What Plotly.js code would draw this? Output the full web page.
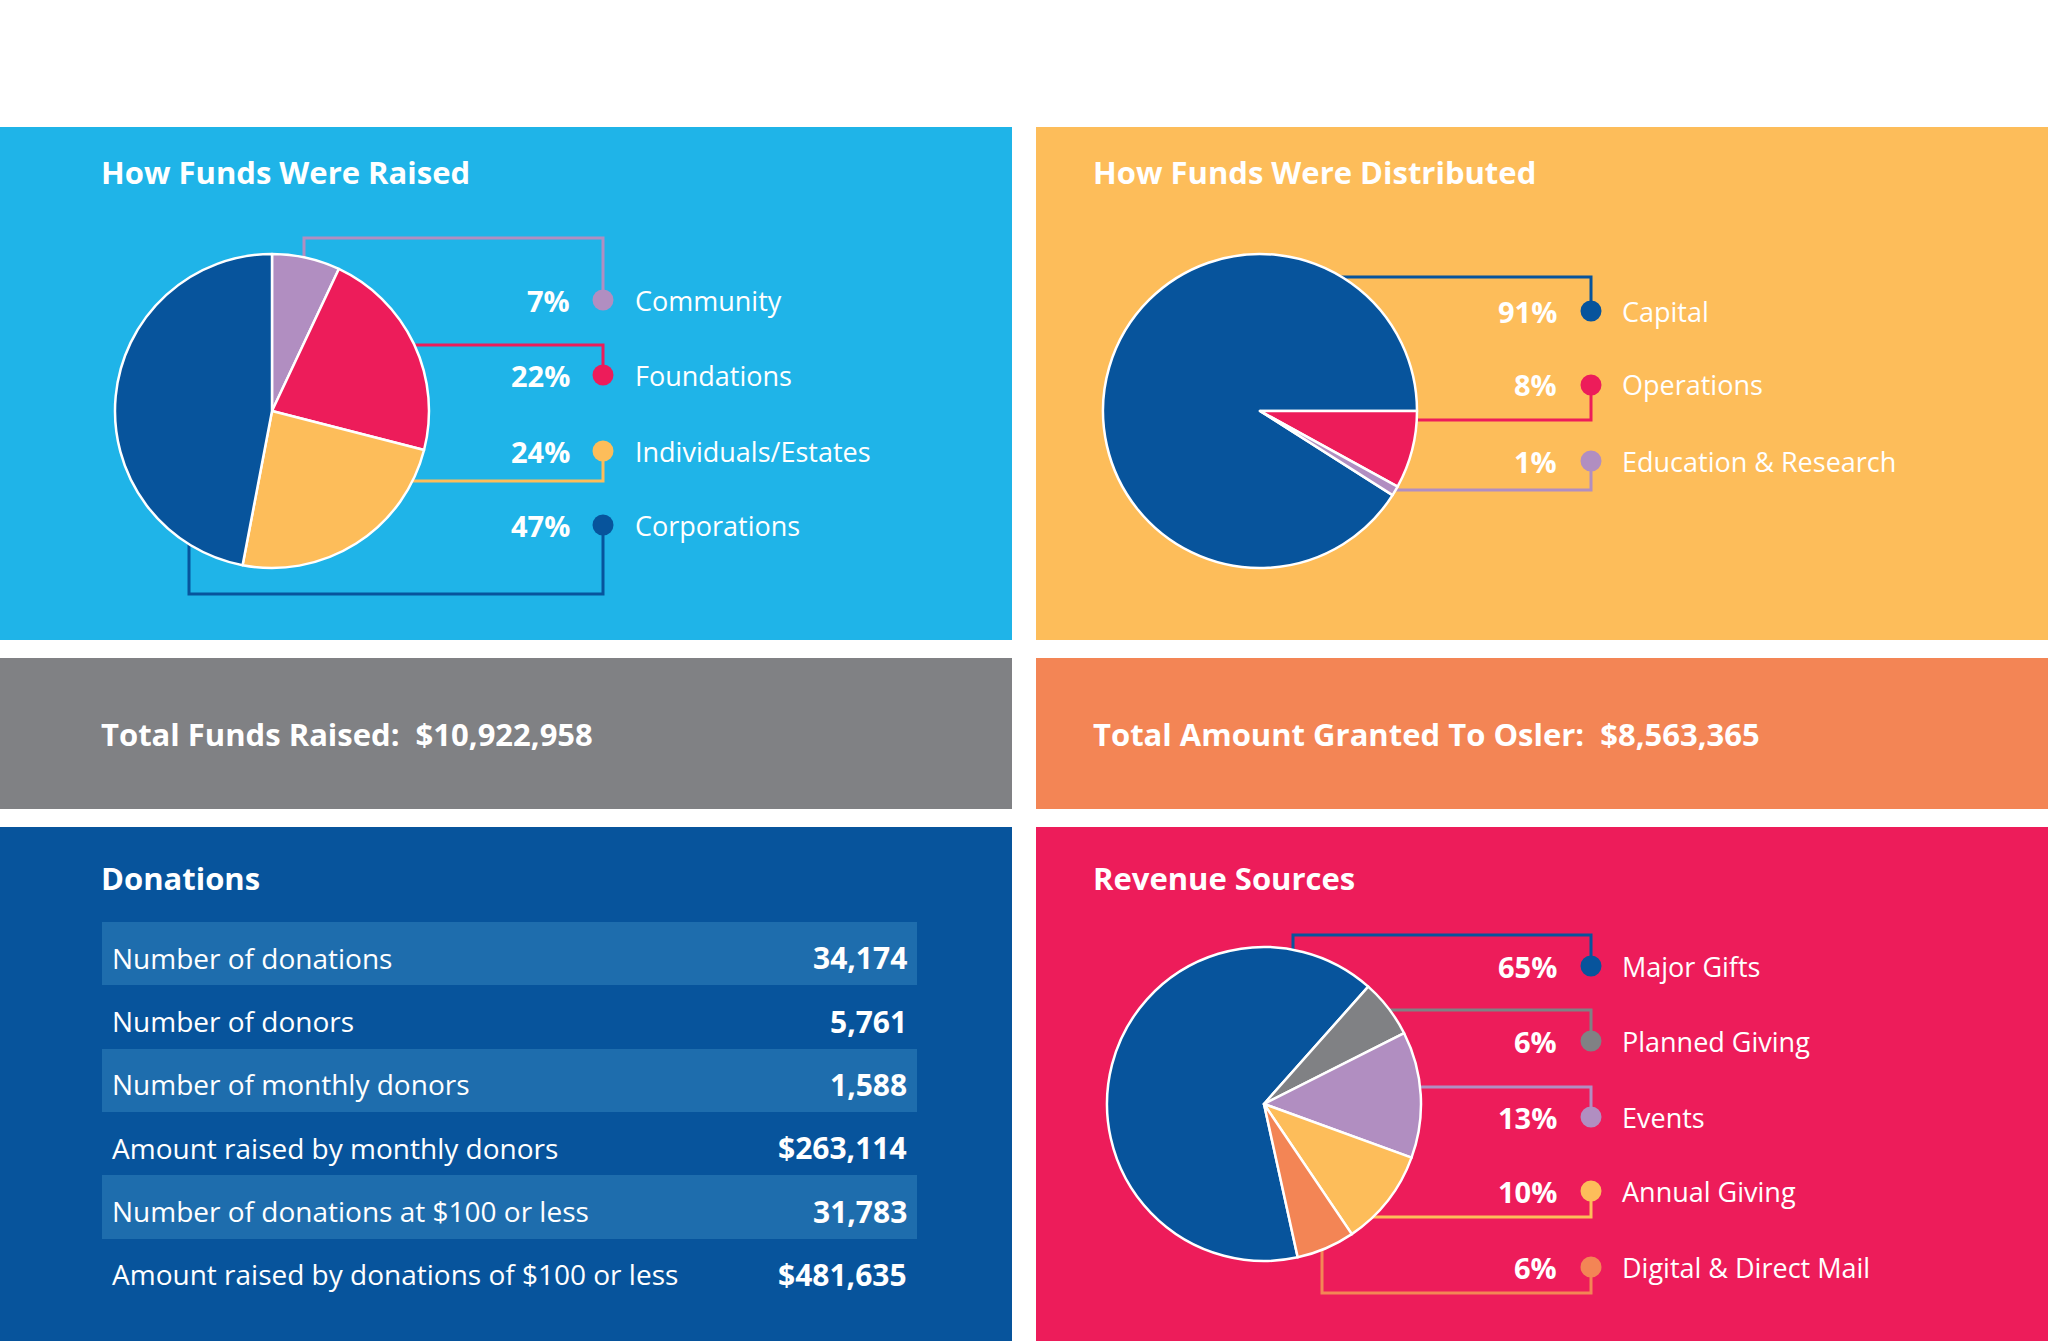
<!DOCTYPE html>
<html>
<head>
<meta charset="utf-8">
<script src="https://cdn.plot.ly/plotly-3.0.1.min.js"></script>
<style>html,body{margin:0;padding:0;background:#fff;}#chart{width:2048px;height:1341px;}</style>
</head>
<body>
<div id="chart"></div>
<script>
// ---------- DATA ----------
const raisedLabels = ['Community', 'Foundations', 'Individuals/Estates', 'Corporations'];
const raisedValues = [7, 22, 24, 47];

const distLabels = ['Capital', 'Operations', 'Education & Research'];
const distValues = [91, 8, 1];

const revLabels = ['Major Gifts', 'Planned Giving', 'Events', 'Annual Giving', 'Digital & Direct Mail'];
const revValues = [65, 6, 13, 10, 6];

const donationLabels = ['Number of donations', 'Number of donors', 'Number of monthly donors',
  'Amount raised by monthly donors', 'Number of donations at $100 or less',
  'Amount raised by donations of $100 or less'];
const donationValues = ['34,174', '5,761', '1,588', '$263,114', '31,783', '$481,635'];

const totalRaisedText = 'Total Funds Raised:';
const totalRaisedValue = '$10,922,958';
const totalGrantedText = 'Total Amount Granted To Osler:';
const totalGrantedValue = '$8,563,365';

// ---------- STYLE ----------
const C = {
  sky: '#1FB4E8', yellow: '#FDBD5A', gray: '#808184', orange: '#F38555',
  navy: '#07549C', pink: '#ED1C5A', purple: '#B18EC1', band: '#1E6DAD', white: '#FFFFFF'
};
const raisedColors = [C.purple, C.pink, C.yellow, C.navy];
const distColors = [C.navy, C.pink, C.purple];
const revColors = [C.navy, C.gray, C.purple, C.yellow, C.orange];

const W = 2048, H = 1341;
const px = x => x / W, py = y => 1 - y / H;
const FONT = 'Open Sans, Liberation Sans, sans-serif';

function pieDomain(cx, cy, r) {
  return { x: [px(cx - r), px(cx + r)], y: [py(cy + r), py(cy - r)] };
}

const R = 157;
const pies = [
  { labels: raisedLabels, values: raisedValues, colors: raisedColors, cx: 272, cy: 411, rotation: 0,
    pctRight: 571, dotX: 603, labelX: 634, rowY: [300, 375, 451, 525],
    conn: [{ vx: 304, hy: 238 }, { hy: 345 }, { hy: 481 }, { vx: 189, hy: 594 }] },
  { labels: distLabels, values: distValues, colors: distColors, cx: 1260, cy: 411,
    rotation: 90 + (1 - distValues[0] / distValues.reduce((a, b) => a + b, 0)) * 360,
    pctRight: 1558, dotX: 1591, labelX: 1621, rowY: [311, 385, 461],
    conn: [{ hy: 277 }, { hy: 420 }, { hy: 490 }] },
  { labels: revLabels, values: revValues, colors: revColors, cx: 1264, cy: 1104, rotation: 167.6,
    pctRight: 1558, dotX: 1591, labelX: 1621, rowY: [966, 1041, 1117, 1191, 1267],
    conn: [{ vx: 1293, hy: 935 }, { hy: 1010 }, { hy: 1087 }, { hy: 1217 }, { vx: 1322, hy: 1293 }] }
];

const traces = [];
const shapes = [];
const annotations = [];

// panels
const panels = [
  [0, 127, 1012, 640, C.sky], [1036, 127, 2048, 640, C.yellow],
  [0, 658, 1012, 809, C.gray], [1036, 658, 2048, 809, C.orange],
  [0, 827, 1012, 1341, C.navy], [1036, 827, 2048, 1341, C.pink]
];
panels.forEach(p => shapes.push({
  type: 'rect', xref: 'paper', yref: 'paper', layer: 'below',
  x0: px(p[0]), x1: px(p[2]), y0: py(p[3]), y1: py(p[1]),
  fillcolor: p[4], line: { width: 0 }
}));

function text(x, y, t, size, anchor, bold) {
  annotations.push({
    xref: 'paper', yref: 'paper', x: px(x), y: py(y), text: bold ? '<b>' + t + '</b>' : t,
    showarrow: false, xanchor: anchor, yanchor: 'middle', borderpad: 0,
    font: { family: FONT, size: size, color: C.white }
  });
}

// titles
text(100, 172, 'How Funds Were Raised', 31, 'left', true);
text(1092, 172, 'How Funds Were Distributed', 31, 'left', true);
text(100, 878, 'Donations', 31, 'left', true);
text(1092, 878, 'Revenue Sources', 31, 'left', true);
text(100, 734, totalRaisedText + '&nbsp;&nbsp;' + totalRaisedValue, 31, 'left', true);
text(1092, 734, totalGrantedText + '&nbsp;&nbsp;' + totalGrantedValue, 31, 'left', true);

// pies + legends + connectors
pies.forEach(p => {
  const total = p.values.reduce((a, b) => a + b, 0);
  traces.push({
    type: 'pie', labels: p.labels, values: p.values, sort: false, direction: 'clockwise',
    rotation: p.rotation, textinfo: 'none', hoverinfo: 'label+percent',
    marker: { colors: p.colors, line: { color: C.white, width: 2.5 } },
    domain: pieDomain(p.cx, p.cy, R), showlegend: false
  });
  p.labels.forEach((lab, i) => {
    const dy = p.rowY[i];
    const cn = p.conn[i];
    let path;
    if (cn.vx !== undefined) {
      path = `M${px(cn.vx)},${py(p.cy)} L${px(cn.vx)},${py(cn.hy)} L${px(p.dotX)},${py(cn.hy)} L${px(p.dotX)},${py(dy)}`;
    } else {
      path = `M${px(p.cx)},${py(cn.hy)} L${px(p.dotX)},${py(cn.hy)} L${px(p.dotX)},${py(dy)}`;
    }
    shapes.push({ type: 'path', xref: 'paper', yref: 'paper', layer: 'below', path: path,
      line: { color: p.colors[i], width: 3 } });
  });
  p.labels.forEach((lab, i) => {
    const dy = p.rowY[i];
    shapes.push({ type: 'circle', xref: 'paper', yref: 'paper', layer: 'below',
      x0: px(p.dotX - 10.5), x1: px(p.dotX + 10.5), y0: py(dy + 10.5), y1: py(dy - 10.5),
      fillcolor: p.colors[i], line: { width: 0 } });
    text(p.pctRight, dy, Math.round(p.values[i] / total * 100) + '%', 29, 'right', true);
    text(p.labelX, dy, lab, 27, 'left', false);
  });
});

// donations table (bands as bars on a categorical axis)
traces.push({
  type: 'bar', orientation: 'h', y: donationLabels, x: donationLabels.map(() => 1), base: 0,
  width: 1, xaxis: 'x', yaxis: 'y', hoverinfo: 'skip', showlegend: false,
  marker: { color: donationLabels.map((_, i) => i % 2 === 0 ? C.band : 'rgba(0,0,0,0)'), line: { width: 0 } }
});
donationLabels.forEach((lab, i) => {
  annotations.push({ xref: 'x', yref: 'y', x: 0, y: lab, text: lab, showarrow: false,
    xanchor: 'left', yanchor: 'middle', xshift: 9, yshift: -4, borderpad: 0,
    font: { family: FONT, size: 28, color: C.white } });
  annotations.push({ xref: 'x', yref: 'y', x: 1, y: lab, text: '<b>' + donationValues[i] + '</b>',
    showarrow: false, xanchor: 'right', yanchor: 'middle', xshift: -9, yshift: -4, borderpad: 0,
    font: { family: FONT, size: 30, color: C.white } });
});

const layout = {
  width: W, height: H, margin: { l: 0, r: 0, t: 0, b: 0, pad: 0 },
  paper_bgcolor: '#FFFFFF', plot_bgcolor: 'rgba(0,0,0,0)', showlegend: false,
  bargap: 0,
  xaxis: { domain: [px(102), px(917)], range: [0, 1], visible: false, fixedrange: true },
  yaxis: { domain: [py(1302), py(922)], type: 'category', range: [donationLabels.length - 0.5, -0.5],
    visible: false, fixedrange: true },
  shapes: shapes, annotations: annotations
};

Plotly.newPlot('chart', traces, layout, { displayModeBar: false, staticPlot: true });
</script>
</body>
</html>
